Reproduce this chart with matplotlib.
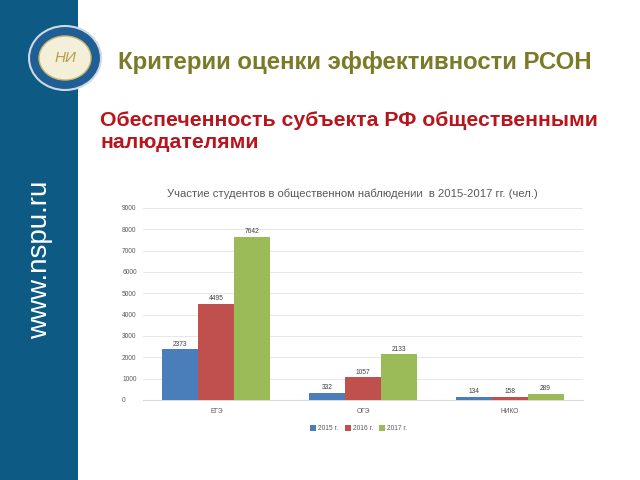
import matplotlib.pyplot as plt
from matplotlib.patches import Ellipse, Rectangle
import numpy as np

plt.rcParams['font.family'] = ['Liberation Sans', 'DejaVu Sans']

categories = ['ЕГЭ', 'ОГЭ', 'НИКО']
years = ['2015 г.', '2016 г.', '2017 г.']
v2015 = [2373, 332, 134]
v2016 = [4495, 1057, 158]
v2017 = [7642, 2133, 289]
yticks = [0, 1000, 2000, 3000, 4000, 5000, 6000, 7000, 8000, 9000]

colors = ['#4a7ebb', '#c0504d', '#9bbb59']

fig = plt.figure(figsize=(6.4, 4.8), dpi=100)

# sidebar
fig.patches.append(Rectangle((0, 0), 78 / 640, 1, transform=fig.transFigure,
                             facecolor='#0d5a84', edgecolor='none', zorder=0))
fig.text(40 / 640, 1 - 260 / 480, 'www.nspu.ru', rotation=90, color='white',
         fontsize=20, ha='center', va='center')

# logo
fig.patches.append(Ellipse((65 / 640, 1 - 58 / 480), 72 / 640, 64 / 480,
                           transform=fig.transFigure, facecolor='#1f5f95',
                           edgecolor='#cfd8e0', lw=1.5, zorder=2))
fig.patches.append(Ellipse((65 / 640, 1 - 58 / 480), 52 / 640, 44 / 480,
                           transform=fig.transFigure, facecolor='#f3efd9',
                           edgecolor='#c9b76a', lw=1, zorder=3))
fig.text(65 / 640, 1 - 58 / 480, 'НИ', color='#b8a048', fontsize=11,
         style='italic', ha='center', va='center', zorder=4)

fig.text(118 / 640, 1 - 62 / 480, 'Критерии оценки эффективности РСОН',
         color='#7a7a28', fontsize=17.3, fontweight='bold', va='center')
fig.text(100 / 640, 1 - 131 / 480,
         'Обеспеченность субъекта РФ общественными\nналюдателями',
         color='#b8141c', fontsize=15.3, fontweight='bold', va='center',
         linespacing=1.2)

fig.text(352 / 640, 1 - 194 / 480,
         'Участие студентов в общественном наблюдении  в 2015-2017 гг. (чел.)',
         color='#595959', fontsize=8.1, ha='center', va='center')

ax = fig.add_axes([143 / 640, 1 - 400 / 480, 440 / 640, 192 / 480])
x = np.arange(len(categories))
w = 0.245
for i, vals in enumerate([v2015, v2016, v2017]):
    bars = ax.bar(x + (i - 1) * w, vals, w, color=colors[i], label=years[i], zorder=3)
    for b, v in zip(bars, vals):
        ax.text(b.get_x() + b.get_width() / 2, v + 80, str(v), ha='center',
                va='bottom', fontsize=4.8, color='#404040')

ax.set_xlim(-0.5, 2.5)
ax.set_ylim(0, 9000)
ax.set_yticks(yticks)
ax.set_xticks(x)
ax.set_xticklabels(categories)
ax.tick_params(axis='both', length=0, labelsize=4.8, labelcolor='#595959')
ax.tick_params(axis='y', pad=15)
ax.tick_params(axis='x', pad=6)
ax.grid(axis='y', color='#e3e3e3', lw=0.6, zorder=0)
for s in ['top', 'right', 'left']:
    ax.spines[s].set_visible(False)
ax.spines['bottom'].set_color('#d9d9d9')
for lbl in ax.get_yticklabels():
    lbl.set_horizontalalignment('left')

ax.legend(loc='upper center', bbox_to_anchor=(0.49, -0.1), ncol=3, frameon=False,
          fontsize=4.8, handlelength=0.9, handleheight=0.9, handletextpad=0.3,
          columnspacing=1.0, labelcolor='#595959')

fig.savefig('out.png', dpi=100)
